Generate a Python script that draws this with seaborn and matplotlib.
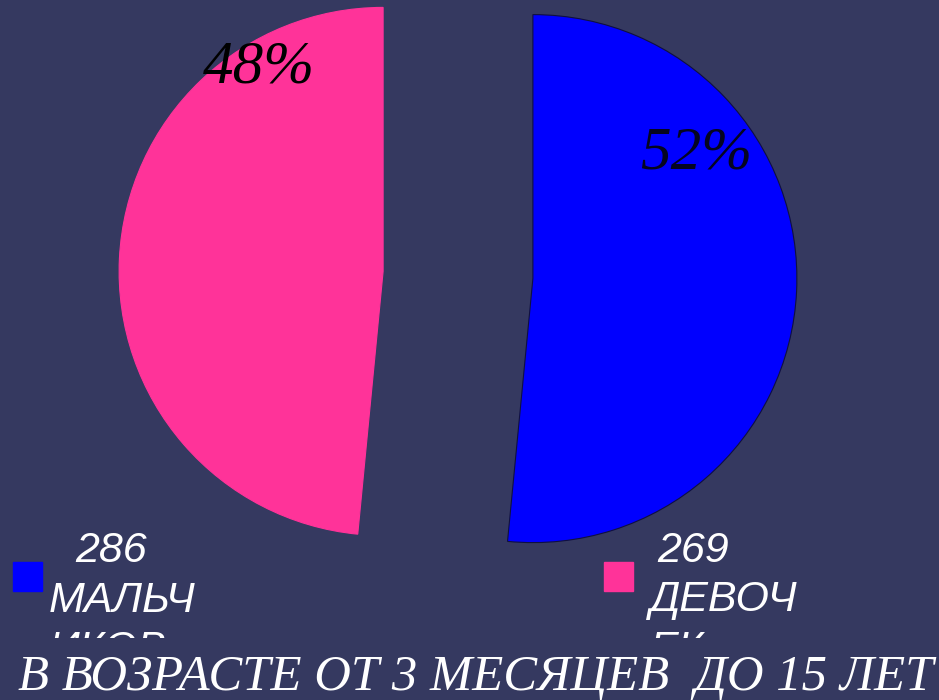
import textwrap
import matplotlib
matplotlib.use("Agg")
import matplotlib.pyplot as plt
import seaborn as sns

# Данные: дети по полу
categories = ["МАЛЬЧИКОВ", "ДЕВОЧЕК"]
counts = [286, 269]
title = "В ВОЗРАСТЕ ОТ 3 МЕСЯЦЕВ  ДО 15 ЛЕТ"

# Оформление
bg = "#353960"
colors = sns.color_palette(["#0000ff", "#ff3399"])
W, H = 939, 700
R = 264                      # радиус круга, px
cx, cy = 458, 275            # центр круга, px от верхнего левого угла

sns.set_theme(style="dark", rc={"figure.facecolor": bg, "axes.facecolor": bg})
plt.rcParams["font.family"] = ["Liberation Serif", "DejaVu Serif"]

fig = plt.figure(figsize=(W / 100, H / 100), dpi=100)

# Круговая диаграмма
ax = fig.add_axes([0, 0, 1, 1])
wedges, texts, autotexts = ax.pie(
    counts, colors=colors, startangle=90, counterclock=False,
    explode=[0.284, 0.284], autopct="%1.0f%%",
    wedgeprops=dict(linewidth=0.8),
    textprops=dict(fontsize=44, style="italic", color="black"),
)
wedges[0].set_edgecolor("#101040")
wedges[1].set_edgecolor("#ff3399")
# подписи процентов как на исходном слайде
autotexts[0].set_position((0.902, 0.458))
autotexts[0].set_color("#050520")
autotexts[1].set_position((-0.755, 0.784))
ax.set_xlim(-cx / R, (W - cx) / R)
ax.set_ylim(-(H - cy) / R, cy / R)
ax.set_aspect("auto")
ax.axis("off")

# Легенда (обрезана снизу, как в оригинале)
lax = fig.add_axes([0, 62 / H, 1, 1 - 62 / H])
lax.set_xlim(0, W)
lax.set_ylim(H - 62, 0)
lax.axis("off")
legend_x = [13, 604]
text_gap = [36, 46]
num_indent = [26, 7]
for i, (cat, n) in enumerate(zip(categories, counts)):
    x0 = legend_x[i]
    lax.add_patch(plt.Rectangle((x0, 562), 29, 29, color=colors[i]))
    lines = [str(n)] + textwrap.wrap(cat, 5)
    for j, line in enumerate(lines):
        dx = num_indent[i] if j == 0 else 0
        lax.text(x0 + text_gap[i] + dx, 562 + 49.5 * j, line, color="white",
                 fontsize=31, style="italic", family=["Liberation Sans", "DejaVu Sans"],
                 ha="left", va="baseline", clip_on=True)

# Подпись снизу, подогнанная по ширине
t = fig.text(18 / W, (H - 689) / H, title, color="white", fontsize=36,
             style="italic", ha="left", va="baseline")
fig.canvas.draw()
w = t.get_window_extent().width
t.set_fontsize(36 * 915 / w)

fig.savefig("out.png", dpi=100, facecolor=bg)
